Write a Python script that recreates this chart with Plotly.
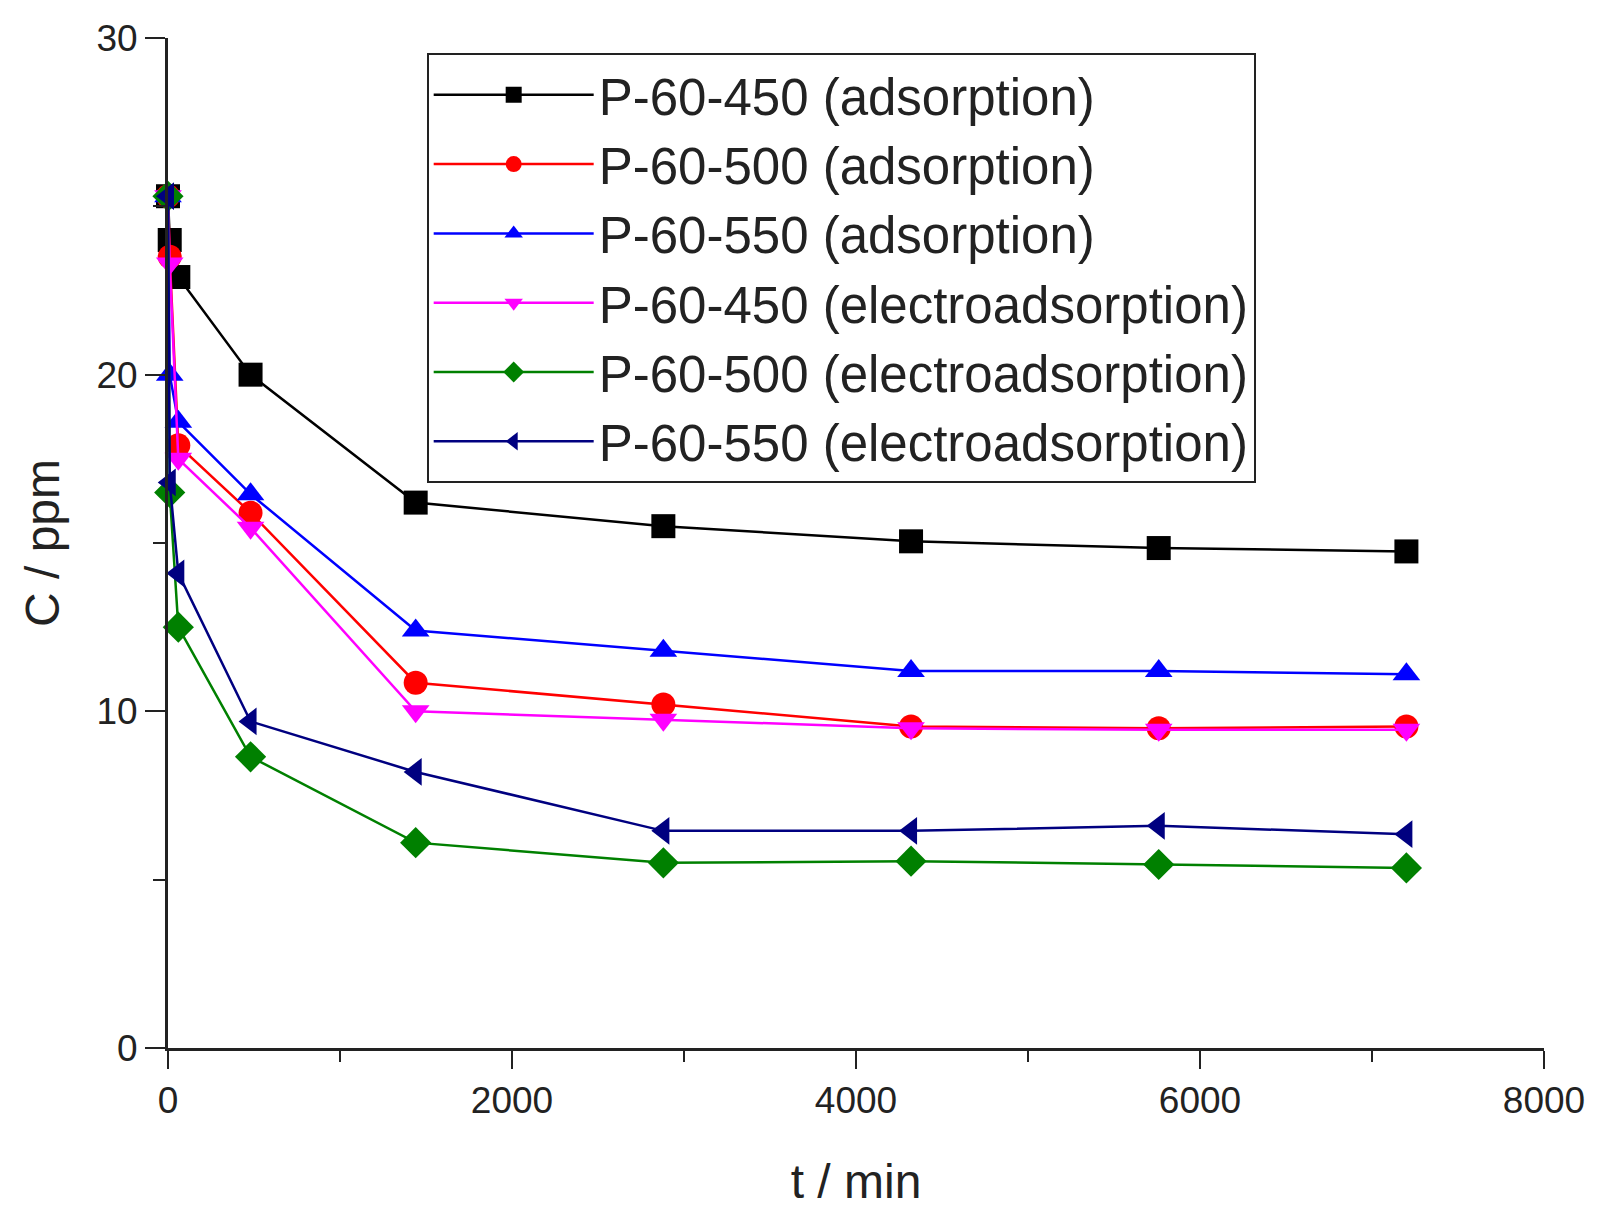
import plotly.graph_objects as go

t_min = [0, 10, 60, 480, 1440, 2880, 4320, 5760, 7200]

names = [
    "P-60-450 (adsorption)",
    "P-60-500 (adsorption)",
    "P-60-550 (adsorption)",
    "P-60-450 (electroadsorption)",
    "P-60-500 (electroadsorption)",
    "P-60-550 (electroadsorption)",
]
c_p450_ads = [25.3, 24.0, 22.9, 20.0, 16.2, 15.5, 15.05, 14.85, 14.75]
c_p500_ads = [25.3, 23.5, 17.9, 15.9, 10.85, 10.2, 9.55, 9.5, 9.55]
c_p550_ads = [25.3, 20.0, 18.6, 16.45, 12.4, 11.8, 11.2, 11.2, 11.1]
c_p450_ele = [25.3, 23.3, 17.5, 15.45, 10.0, 9.75, 9.5, 9.45, 9.45]
c_p500_ele = [25.3, 16.5, 12.5, 8.65, 6.1, 5.5, 5.55, 5.45, 5.35]
c_p550_ele = [25.3, 16.8, 14.1, 9.7, 8.2, 6.45, 6.45, 6.6, 6.35]

series = [c_p450_ads, c_p500_ads, c_p550_ads, c_p450_ele, c_p500_ele, c_p550_ele]
colors = ["#000000", "#ff0000", "#0000ff", "#ff00ff", "#008000", "#000080"]
symbols = ["square", "circle", "triangle-up", "triangle-down", "diamond", "triangle-left"]

x_ticks = [0, 2000, 4000, 6000, 8000]
y_ticks = [0, 10, 20, 30]

fig = go.Figure()
for name, ys, col, sym in zip(names, series, colors, symbols):
    fig.add_trace(go.Scatter(
        x=t_min, y=ys, name=name, mode="lines+markers",
        line=dict(color=col, width=2.5),
        marker=dict(symbol=sym, size=24, color=col, line=dict(width=0)),
        cliponaxis=False,
    ))

font_family = "Liberation Sans, Arial, sans-serif"
fig.update_layout(
    width=1600, height=1208,
    margin=dict(l=168, r=56, t=38, b=160, autoexpand=False),
    plot_bgcolor="white", paper_bgcolor="white",
    font=dict(family=font_family, color="#222222"),
    showlegend=True,
    legend=dict(
        x=0.188, y=0.985, xanchor="left", yanchor="top",
        bgcolor="white", bordercolor="#222222", borderwidth=2,
        font=dict(size=51, family=font_family, color="#222222"),
        itemwidth=160, tracegroupgap=0,
    ),
    xaxis=dict(
        range=[0, 8000], tickvals=x_ticks, ticktext=[str(v) for v in x_ticks],
        showline=True, linecolor="#222222", linewidth=3, automargin=False,
        ticks="outside", ticklen=18, tickwidth=2, tickcolor="#222222",
        minor=dict(dtick=1000, ticks="outside", ticklen=11, tickwidth=2, tickcolor="#222222"),
        showgrid=False, zeroline=False,
        tickfont=dict(size=37, family=font_family, color="#222222"),
        title=dict(text="t / min", font=dict(size=48, family=font_family, color="#222222"), standoff=46),
    ),
    yaxis=dict(
        range=[0, 30], tickvals=y_ticks, ticktext=[str(v) for v in y_ticks],
        showline=True, linecolor="#222222", linewidth=3, automargin=False,
        ticks="outside", ticklen=20, tickwidth=2, tickcolor="#222222",
        minor=dict(dtick=5, ticks="outside", ticklen=12, tickwidth=2, tickcolor="#222222"),
        showgrid=False, zeroline=False,
        tickfont=dict(size=37, family=font_family, color="#222222"),
        title=dict(text="C / ppm", font=dict(size=48, family=font_family, color="#222222"), standoff=22),
    ),
)

fig.write_html("out.html")
